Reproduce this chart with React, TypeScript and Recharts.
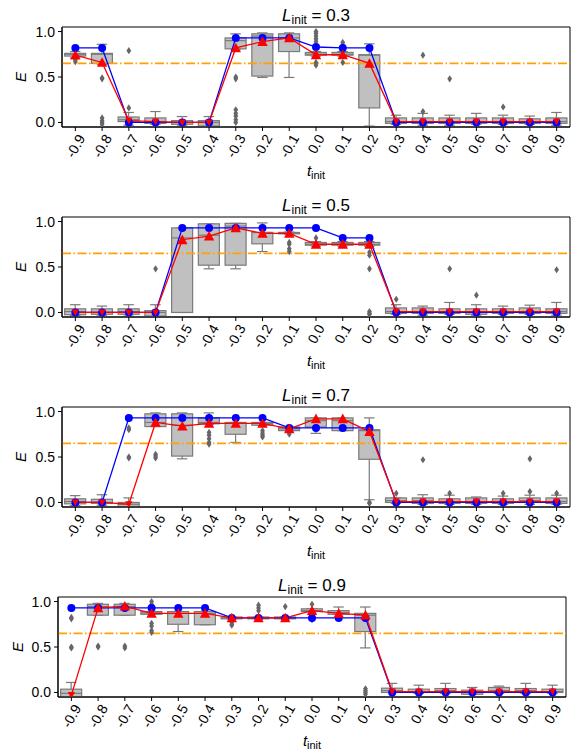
import React from 'react';
import { ComposedChart, Bar, Line, XAxis, YAxis, ReferenceLine, ReferenceArea } from 'recharts';

const T_INIT = ['-0.9', '-0.8', '-0.7', '-0.6', '-0.5', '-0.4', '-0.3', '-0.2', '-0.1', '0.0', '0.1', '0.2', '0.3', '0.4', '0.5', '0.6', '0.7', '0.8', '0.9'];
const L_INIT = ['0.3', '0.5', '0.7', '0.9'];
const THRESHOLD = 0.65;

// box stats per t_init: [whisker low, q1, median, q3, whisker high]
const BOX_03 = [
  [0.71, 0.73, 0.75, 0.76, 0.78], [0.64, 0.65, 0.75, 0.76, 0.86], [-0.03, 0.01, 0.03, 0.06, 0.11],
  [-0.02, -0.01, 0.01, 0.05, 0.12], [-0.03, -0.02, 0.0, 0.02, 0.065], [-0.04, -0.04, 0.0, 0.02, 0.065],
  [0.8, 0.81, 0.9, 0.93, 0.975], [0.495, 0.51, 0.95, 0.975, 0.985], [0.495, 0.78, 0.93, 0.975, 0.985],
  [0.73, 0.74, 0.75, 0.77, 0.78], [0.73, 0.74, 0.75, 0.77, 0.78], [-0.04, 0.16, 0.74, 0.745, 0.865],
  [-0.02, -0.01, 0.01, 0.05, 0.08], [-0.03, -0.01, 0.01, 0.05, 0.1], [-0.03, -0.01, 0.01, 0.05, 0.08],
  [-0.02, -0.01, 0.01, 0.05, 0.1], [-0.02, -0.01, 0.01, 0.05, 0.08], [-0.02, -0.01, 0.01, 0.04, 0.07],
  [-0.03, -0.01, 0.01, 0.05, 0.11],
];
const OUT_03 = [
  [0.67, 0.69], [0.49, 0.48, 0.05, 0.02, 0.0, -0.02], [0.79, 0.16], [], [], [],
  [0.5, 0.48, 0.14, 0.1, 0.07, 0.03, 0.0], [], [],
  [1.0, 0.98, 0.95, 0.92, 0.89, 0.66, 0.63], [0.88, 0.85, 0.66], [],
  [], [0.74, 0.12], [0.48], [], [0.17], [], [],
];
const BLUE_03 = [0.82, 0.82, 0.0, 0.0, 0.0, 0.0, 0.93, 0.93, 0.93, 0.83, 0.82, 0.82, 0, 0, 0, 0, 0, 0, 0];
const RED_03 = [0.74, 0.66, 0.02, 0.01, 0.0, 0.0, 0.82, 0.89, 0.93, 0.745, 0.745, 0.65, 0.01, 0.01, 0.01, 0.01, 0.01, 0.01, 0.01];

const BOX_05 = [
  [-0.035, -0.025, 0.01, 0.04, 0.085], [-0.03, -0.02, 0.0, 0.04, 0.07], [-0.04, -0.02, 0.01, 0.04, 0.085],
  [-0.04, -0.04, 0.0, 0.02, 0.085], [0.0, 0.0, 0.82, 0.93, 0.93], [0.48, 0.52, 0.85, 0.975, 0.975],
  [0.48, 0.52, 0.95, 0.98, 0.98], [0.67, 0.755, 0.88, 0.88, 0.985], [0.86, 0.865, 0.875, 0.88, 0.885],
  [0.73, 0.74, 0.75, 0.77, 0.78], [0.73, 0.74, 0.75, 0.77, 0.78], [0.73, 0.74, 0.75, 0.77, 0.78],
  [-0.02, -0.01, 0.01, 0.05, 0.085], [-0.03, -0.01, 0.01, 0.05, 0.07], [-0.02, -0.01, 0.01, 0.04, 0.11],
  [-0.03, -0.02, 0.01, 0.04, 0.085], [-0.02, -0.01, 0.01, 0.04, 0.07], [-0.02, -0.01, 0.01, 0.05, 0.08],
  [-0.03, -0.01, 0.01, 0.04, 0.11],
];
const OUT_05 = [
  [], [], [], [0.48], [], [], [], [], [0.77, 0.75, 0.7, 0.67],
  [0.82], [], [0.66, 0.63, 0.48, 0.01, -0.01, -0.02],
  [0.145], [], [0.48], [0.19], [], [], [0.47],
];
const BLUE_05 = [0, 0, 0, 0, 0.93, 0.93, 0.93, 0.93, 0.93, 0.93, 0.82, 0.82, 0, 0, 0, 0, 0, 0, 0];
const RED_05 = [0, 0, 0, 0, 0.8, 0.84, 0.93, 0.87, 0.87, 0.75, 0.75, 0.75, 0.01, 0.01, 0.01, 0.01, 0.01, 0.01, 0.01];

const BOX_07 = [
  [-0.035, -0.015, 0.01, 0.04, 0.075], [-0.03, -0.01, 0.0, 0.035, 0.085], [-0.05, -0.045, -0.02, 0.0, 0.05],
  [0.835, 0.835, 0.88, 0.975, 0.985], [0.48, 0.51, 0.85, 0.975, 0.985], [0.86, 0.865, 0.88, 0.93, 0.985],
  [0.66, 0.75, 0.87, 0.88, 0.88], [0.85, 0.85, 0.87, 0.88, 0.88], [0.79, 0.79, 0.81, 0.83, 0.83],
  [0.76, 0.83, 0.9, 0.93, 0.93], [0.79, 0.79, 0.9, 0.93, 0.93], [0.03, 0.475, 0.79, 0.8, 0.93],
  [-0.01, 0.0, 0.02, 0.05, 0.05], [-0.02, -0.01, 0.02, 0.05, 0.085], [-0.02, -0.01, 0.01, 0.04, 0.08],
  [-0.02, -0.01, 0.01, 0.05, 0.06], [-0.02, -0.01, 0.01, 0.04, 0.07], [-0.02, 0.0, 0.02, 0.05, 0.08],
  [-0.02, -0.01, 0.01, 0.05, 0.08],
];
const OUT_07 = [
  [], [], [0.82, 0.8, 0.5, 0.49], [0.53, 0.51, 0.49], [], [0.77, 0.74, 0.7, 0.66, 0.64],
  [], [0.79, 0.76, 0.74, 0.72], [0.77, 0.75],
  [], [], [0.0, -0.01],
  [0.1], [0.47], [0.1], [], [0.1], [0.48, 0.12], [0.1],
];
const BLUE_07 = [0, 0, 0.93, 0.93, 0.93, 0.93, 0.93, 0.93, 0.82, 0.82, 0.82, 0.82, 0, 0, 0, 0, 0, 0, 0];
const RED_07 = [0, 0, -0.02, 0.88, 0.84, 0.87, 0.87, 0.87, 0.81, 0.92, 0.92, 0.78, 0.01, 0.01, 0.01, 0.01, 0.01, 0.01, 0.01];

const BOX_09 = [
  [-0.047, -0.047, -0.01, 0.036, 0.11], [0.85, 0.85, 0.945, 0.97, 0.98], [0.85, 0.85, 0.945, 0.97, 0.98],
  [0.86, 0.86, 0.875, 0.89, 0.89], [0.67, 0.75, 0.87, 0.89, 0.89], [0.745, 0.745, 0.87, 0.89, 0.89],
  [0.81, 0.81, 0.82, 0.83, 0.83], [0.81, 0.81, 0.82, 0.83, 0.83], [0.81, 0.81, 0.82, 0.83, 0.83],
  [0.89, 0.89, 0.9, 0.92, 0.92], [0.86, 0.86, 0.88, 0.9, 0.94], [0.49, 0.67, 0.85, 0.87, 0.94],
  [0.0, 0.0, 0.02, 0.047, 0.1], [-0.01, 0.0, 0.01, 0.036, 0.08], [-0.01, 0.0, 0.02, 0.043, 0.1],
  [-0.02, -0.02, 0.0, 0.025, 0.055], [-0.01, 0.0, 0.02, 0.055, 0.07], [-0.01, 0.0, 0.02, 0.043, 0.1],
  [-0.01, 0.0, 0.01, 0.036, 0.08],
];
const OUT_09 = [
  [0.825, 0.81, 0.5, 0.49], [0.51, 0.5], [0.51, 0.49], [1.0, 0.97, 0.76, 0.73, 0.68, 0.66], [], [],
  [0.77, 0.75, 0.74], [0.96, 0.93, 0.9], [0.945],
  [0.97, 0.8], [], [0.04, 0.02, 0.0, -0.02],
  [], [], [], [], [], [], [],
];
const BLUE_09 = [0.93, 0.93, 0.93, 0.93, 0.93, 0.93, 0.82, 0.82, 0.82, 0.82, 0.82, 0.82, 0, 0, 0, 0, 0, 0, 0];
const RED_09 = [-0.03, 0.93, 0.95, 0.87, 0.87, 0.87, 0.82, 0.82, 0.82, 0.9, 0.87, 0.85, 0.01, 0.01, 0.01, 0.01, 0.01, 0.01, 0.01];

const FONT = '"Liberation Sans", Arial, sans-serif';
const EDGE = '#7a7a7a';
const TICK_FS = 14;

const BoxShape = (props: any) => {
  const { x, y, width, height } = props;
  const p = props.payload ?? props;
  const { lo, q1, med, q3, hi } = p;
  const py = (v: number) => y + (height * (hi - v)) / (hi - lo);
  const cx = x + width / 2;
  const cap = width / 4;
  return (
    <g>
      <line x1={cx} x2={cx} y1={py(hi)} y2={py(q3)} stroke={EDGE} strokeWidth={1.2} />
      <line x1={cx} x2={cx} y1={py(q1)} y2={py(lo)} stroke={EDGE} strokeWidth={1.2} />
      <line x1={cx - cap} x2={cx + cap} y1={py(hi)} y2={py(hi)} stroke={EDGE} strokeWidth={1.2} />
      <line x1={cx - cap} x2={cx + cap} y1={py(lo)} y2={py(lo)} stroke={EDGE} strokeWidth={1.2} />
      <rect x={x} y={py(q3)} width={width} height={Math.max(py(q1) - py(q3), 0.5)} fill="#c0c0c0" stroke={EDGE} strokeWidth={1.2} />
      <line x1={x} x2={x + width} y1={py(med)} y2={py(med)} stroke={EDGE} strokeWidth={1.2} />
    </g>
  );
};

const OutDot = (props: any) => {
  const { cx, cy, value } = props;
  if (value == null || cx == null || cy == null || isNaN(cy)) return <g />;
  return <polygon points={`${cx},${cy - 3.6} ${cx + 2.4},${cy} ${cx},${cy + 3.6} ${cx - 2.4},${cy}`} fill="#666666" />;
};

const BlueDot = (props: any) => {
  const { cx, cy } = props;
  if (cx == null || cy == null) return <g />;
  return <circle cx={cx} cy={cy} r={4} fill="#0000ff" />;
};

const RedDot = (props: any) => {
  const { cx, cy, value } = props;
  if (cx == null || cy == null) return <g />;
  if (value > 0.3) {
    const s = 5.2;
    return <polygon points={`${cx},${cy - s} ${cx + s},${cy + s * 0.85} ${cx - s},${cy + s * 0.85}`} fill="#ff0000" />;
  }
  const s = 3.6;
  return <polygon points={`${cx},${cy + s} ${cx + s},${cy - s * 0.85} ${cx - s},${cy - s * 0.85}`} fill="#ff0000" />;
};

const charW = (c: string) => (c === '-' ? 0.333 : c === '.' ? 0.278 : 0.556);

const XTick = (props: any) => {
  const { x, y, payload } = props;
  const label = String(payload.value);
  const w = label.split('').reduce((s, c) => s + charW(c), 0) * TICK_FS;
  const cy = y + (w * 0.866 + TICK_FS * 0.72 * 0.5) / 2;
  return (
    <text x={x} y={cy} textAnchor="middle" dominantBaseline="central" fontSize={TICK_FS} fill="#000" fontFamily={FONT}
      transform={`rotate(-60 ${x} ${cy})`}>
      {label}
    </text>
  );
};

type PanelProps = {
  boxes: number[][];
  outliers: number[][];
  blue: number[];
  red: number[];
  yAxisWidth: number;
  right: number;
};

function Panel({ boxes, outliers, blue, red, yAxisWidth, right }: PanelProps) {
  const slots = Math.max(...outliers.map((o) => o.length));
  const rows = T_INIT.map((t, i) => {
    const [lo, q1, med, q3, hi] = boxes[i];
    const row: any = { t, lo, q1, med, q3, hi, blue: blue[i], red: red[i] };
    for (let k = 0; k < slots; k++) row['o' + k] = outliers[i][k] ?? null;
    return row;
  });
  const slotKeys = Array.from({ length: slots }, (_, k) => 'o' + k);

  return (
    <ComposedChart width={576} height={190} data={rows} margin={{ top: 27, right, bottom: 0, left: 0 }} barCategoryGap="10%">
      <XAxis dataKey="t" type="category" interval={0} height={63} tick={<XTick />} tickSize={4} tickMargin={2}
        stroke="#000" tickLine={{ stroke: '#000' }} axisLine={{ stroke: '#000' }} />
      <YAxis type="number" domain={[-0.05, 1.05]} allowDataOverflow ticks={[0, 0.5, 1]} width={yAxisWidth}
        tickFormatter={(v: number) => v.toFixed(1)} tickSize={4} tickMargin={3}
        tick={{ fontSize: TICK_FS, fill: '#000', fontFamily: FONT }} stroke="#000" />
      <ReferenceLine y={THRESHOLD} stroke="#ffa200" strokeWidth={1.7} strokeDasharray="9 2.5 1.5 2.5" />
      <Bar dataKey={(r: any) => [r.lo, r.hi]} shape={<BoxShape />} isAnimationActive={false} />
      {slotKeys.map((k) => (
        <Line key={k} dataKey={k} stroke="none" dot={<OutDot />} activeDot={false} isAnimationActive={false} legendType="none" />
      ))}
      <Line dataKey="blue" stroke="#0000ff" strokeWidth={1.3} dot={<BlueDot />} activeDot={false} isAnimationActive={false} />
      <Line dataKey="red" stroke="#ff0000" strokeWidth={1.3} dot={<RedDot />} activeDot={false} isAnimationActive={false} />
      <ReferenceArea y1={-0.05} y2={1.05} fill="none" fillOpacity={0} stroke="#000" strokeWidth={1} ifOverflow="visible" />
    </ComposedChart>
  );
}

const PANELS = [
  { boxes: BOX_03, outliers: OUT_03, blue: BLUE_03, red: RED_03 },
  { boxes: BOX_05, outliers: OUT_05, blue: BLUE_05, red: RED_05 },
  { boxes: BOX_07, outliers: OUT_07, blue: BLUE_07, red: RED_07 },
  { boxes: BOX_09, outliers: OUT_09, blue: BLUE_09, red: RED_09 },
];

export default function App() {
  const tops = [0, 190, 380, 570];
  return (
    <div style={{ position: 'absolute', left: 0, top: 0, width: 576, height: 754, background: '#fff', fontFamily: FONT }}>
      {PANELS.map((p, i) => {
        const last = i === 3;
        return (
          <div key={i} style={{ position: 'absolute', left: 0, top: tops[i], width: 576, height: 190 }}>
            <Panel {...p} yAxisWidth={last ? 58 : 62} right={last ? 10 : 6} />
          </div>
        );
      })}
      <svg width={576} height={754} style={{ position: 'absolute', left: 0, top: 0, pointerEvents: 'none' }}>
        {L_INIT.map((l, i) => {
          const last = i === 3;
          const left = last ? 58 : 62;
          const rightEdge = last ? 566 : 570;
          const cx = (left + rightEdge) / 2;
          const plotTop = tops[i] + 27;
          const plotBottom = plotTop + 100;
          const ex = last ? 23 : 26;
          const ey = (plotTop + plotBottom) / 2;
          return (
            <g key={l} fontFamily={FONT} fill="#000">
              <text x={cx} y={plotTop - 6} textAnchor="middle" fontSize={17}>
                <tspan fontStyle="italic">L</tspan>
                <tspan fontSize={12} dy={3}>init</tspan>
                <tspan dy={-3}>{` = ${l}`}</tspan>
              </text>
              <text x={cx} y={plotBottom + 49} textAnchor="middle" fontSize={15}>
                <tspan fontStyle="italic">t</tspan>
                <tspan fontSize={11} dy={3}>init</tspan>
              </text>
              <text x={ex} y={ey} textAnchor="middle" fontSize={15} fontStyle="italic" transform={`rotate(-90 ${ex} ${ey})`}>
                E
              </text>
            </g>
          );
        })}
      </svg>
    </div>
  );
}
